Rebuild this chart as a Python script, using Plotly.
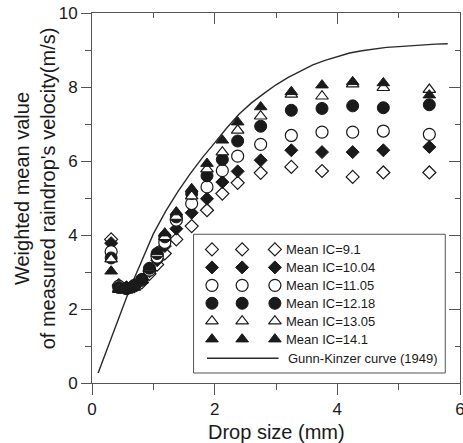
import plotly.graph_objects as go

# ---------------- data ----------------
drop_size = [0.312, 0.437, 0.562, 0.687, 0.812, 0.937, 1.062, 1.187, 1.375,
             1.625, 1.875, 2.125, 2.375, 2.75, 3.25, 3.75, 4.25, 4.75, 5.5]

ic_9_1 = [3.88, 2.62, 2.58, 2.62, 2.72, 2.95, 3.20, 3.50, 3.88, 4.24, 4.67,
          5.12, 5.41, 5.68, 5.84, 5.73, 5.57, 5.69, 5.69]
ic_10_04 = [3.78, 2.65, 2.58, 2.65, 2.78, 3.02, 3.32, 3.70, 4.17, 4.60, 4.98,
            5.43, 5.72, 6.02, 6.29, 6.24, 6.24, 6.29, 6.38]
ic_11_05 = [3.55, 2.62, 2.56, 2.63, 2.78, 3.05, 3.40, 3.80, 4.40, 4.85, 5.30,
            5.74, 6.13, 6.45, 6.69, 6.78, 6.78, 6.81, 6.72]
ic_12_18 = [3.38, 2.58, 2.55, 2.62, 2.80, 3.10, 3.50, 3.95, 4.49, 5.12, 5.60,
            6.04, 6.54, 6.94, 7.37, 7.42, 7.49, 7.44, 7.52]
ic_13_05 = [3.35, 2.55, 2.52, 2.60, 2.78, 3.10, 3.50, 3.95, 4.50, 5.05, 5.78,
            6.24, 6.83, 7.21, 7.80, 7.75, 8.08, 7.98, 7.93]
ic_14_1 = [3.02, 2.52, 2.50, 2.58, 2.78, 3.12, 3.55, 4.05, 4.62, 5.25, 5.93,
           6.56, 7.05, 7.46, 7.87, 8.05, 8.14, 8.11, 7.78]

series_names = ["Mean IC=9.1", "Mean IC=10.04", "Mean IC=11.05",
                "Mean IC=12.18", "Mean IC=13.05", "Mean IC=14.1"]
series_values = [ic_9_1, ic_10_04, ic_11_05, ic_12_18, ic_13_05, ic_14_1]

gk_diameter = [0.1, 0.2, 0.3, 0.4, 0.5, 0.6, 0.7, 0.8, 0.9, 1.0, 1.2, 1.4,
               1.6, 1.8, 2.0, 2.2, 2.4, 2.6, 2.8, 3.0, 3.2, 3.4, 3.6, 3.8,
               4.0, 4.2, 4.4, 4.6, 4.8, 5.0, 5.2, 5.4, 5.6, 5.8]
gk_velocity = [0.27, 0.72, 1.17, 1.62, 2.06, 2.47, 2.87, 3.27, 3.67, 4.03,
               4.64, 5.17, 5.65, 6.09, 6.49, 6.90, 7.27, 7.57, 7.82, 8.06,
               8.26, 8.44, 8.60, 8.72, 8.83, 8.92, 8.98, 9.03, 9.07, 9.09,
               9.12, 9.14, 9.16, 9.17]
gk_name = "Gunn-Kinzer curve (1949)"

x_ticks = [0, 2, 4, 6]
y_ticks = [0, 2, 4, 6, 8, 10]
X_RANGE = [0, 6]
Y_RANGE = [0, 10]

# ---------------- styles ----------------
FONT = "Arial, Liberation Sans, sans-serif"
INK = "#1a1a1a"
AX = "#555555"
styles = [
    dict(symbol="diamond", size=10, color="white", line=dict(color=INK, width=1.2)),
    dict(symbol="diamond", size=10, color=INK, line=dict(color=INK, width=1)),
    dict(symbol="circle", size=12, color="white", line=dict(color=INK, width=1.2)),
    dict(symbol="circle", size=12, color=INK, line=dict(color=INK, width=1)),
    dict(symbol="triangle-up", size=11, color="white", line=dict(color=INK, width=1.2)),
    dict(symbol="triangle-up", size=11, color=INK, line=dict(color=INK, width=1)),
]

fig = go.Figure()

fig.add_trace(go.Scatter(x=gk_diameter, y=gk_velocity, mode="lines", name=gk_name,
                         line=dict(color="#2a2a2a", width=1.4), showlegend=False,
                         cliponaxis=False))
for name, vals, st in zip(series_names, series_values, styles):
    fig.add_trace(go.Scatter(x=drop_size, y=vals, mode="markers", name=name,
                             marker=st, showlegend=False, cliponaxis=False))

# transparent copy of the curve on the mirror axes so the top/right ticks get drawn
fig.add_trace(go.Scatter(x=gk_diameter, y=gk_velocity, xaxis="x2", yaxis="y2",
                         mode="lines", line=dict(color="rgba(0,0,0,0)", width=0),
                         showlegend=False, hoverinfo="skip"))

# ---------------- hand-drawn legend (positions as fractions of the plot area) ----------------
def px(f):
    return X_RANGE[0] + f * (X_RANGE[1] - X_RANGE[0])

def py(f):
    return Y_RANGE[0] + f * (Y_RANGE[1] - Y_RANGE[0])

leg_x0, leg_x1, leg_top, leg_bot = 0.276, 0.960, 0.402, 0.027
row_top, row_step = 0.361, 0.0485
sym_cols = [0.326, 0.408, 0.497]
text_x = 0.522
for i, (name, st) in enumerate(zip(series_names, styles)):
    ry = row_top - i * row_step
    fig.add_trace(go.Scatter(x=[px(c) for c in sym_cols], y=[py(ry)] * 3,
                             mode="markers", marker=st, showlegend=False,
                             hoverinfo="skip", cliponaxis=False))
    fig.add_annotation(x=text_x, y=ry, xref="paper", yref="paper", text=name,
                       showarrow=False, xanchor="left", yanchor="middle",
                       font=dict(family=FONT, size=13, color=INK))
gk_row = row_top - 6 * row_step - 0.003
fig.add_shape(type="line", xref="paper", yref="paper", x0=0.3125, x1=0.507,
              y0=gk_row, y1=gk_row, line=dict(color="#2a2a2a", width=1.4))
fig.add_annotation(x=0.526, y=gk_row, xref="paper", yref="paper", text=gk_name,
                   showarrow=False, xanchor="left", yanchor="middle",
                   font=dict(family=FONT, size=13, color=INK))
fig.add_shape(type="rect", xref="paper", yref="paper", x0=leg_x0, x1=leg_x1,
              y0=leg_bot, y1=leg_top, line=dict(color="#555555", width=1),
              fillcolor="rgba(0,0,0,0)", layer="above")

# ---------------- axis titles ----------------
fig.add_annotation(x=0.5, y=-0.133, xref="paper", yref="paper",
                   text="Drop size (mm)", showarrow=False,
                   xanchor="center", yanchor="middle",
                   font=dict(family=FONT, size=20, color=INK))
fig.add_annotation(x=-0.155, y=0.526, xref="paper", yref="paper",
                   text="Weighted mean value<br>of measured raindrop's velocity(m/s)",
                   showarrow=False, textangle=-90, xanchor="center", yanchor="middle",
                   font=dict(family=FONT, size=20, color=INK))

common = dict(showgrid=False, zeroline=False, linecolor=AX, showline=True,
              mirror=True, linewidth=1, tickcolor=AX, tickwidth=1, automargin=False)
x_step = x_ticks[1] - x_ticks[0]
y_step = y_ticks[1] - y_ticks[0]
fig.update_layout(
    width=463, height=443,
    margin=dict(l=92, r=3, t=13, b=60),
    paper_bgcolor="white", plot_bgcolor="white",
    font=dict(family=FONT, color=INK),
    showlegend=False,
    xaxis=dict(range=X_RANGE, tickmode="linear", tick0=x_ticks[0], dtick=x_step,
               ticks="outside", ticklen=11,
               minor=dict(ticks="outside", ticklen=6, dtick=x_step / 2),
               tickfont=dict(size=17, color=INK), ticklabeloverflow="allow", **common),
    yaxis=dict(range=Y_RANGE, tickmode="linear", tick0=y_ticks[0], dtick=y_step,
               ticks="outside", ticklen=10,
               minor=dict(ticks="outside", ticklen=6, dtick=y_step / 2),
               tickfont=dict(size=17, color=INK), **common),
    xaxis2=dict(range=X_RANGE, overlaying="x", side="top", anchor="y",
                tickmode="linear", tick0=x_ticks[0], dtick=x_step,
                ticks="inside", ticklen=11, showticklabels=False,
                minor=dict(ticks="inside", ticklen=5, dtick=x_step / 2),
                showgrid=False, zeroline=False, showline=False,
                tickcolor=AX, tickwidth=1, automargin=False),
    yaxis2=dict(range=Y_RANGE, overlaying="y", side="right", anchor="x",
                tickmode="linear", tick0=y_ticks[0], dtick=y_step,
                ticks="inside", ticklen=11, showticklabels=False,
                minor=dict(ticks="inside", ticklen=5, dtick=y_step / 2),
                showgrid=False, zeroline=False, showline=False,
                tickcolor=AX, tickwidth=1, automargin=False),
)

fig.write_html("out.html")
